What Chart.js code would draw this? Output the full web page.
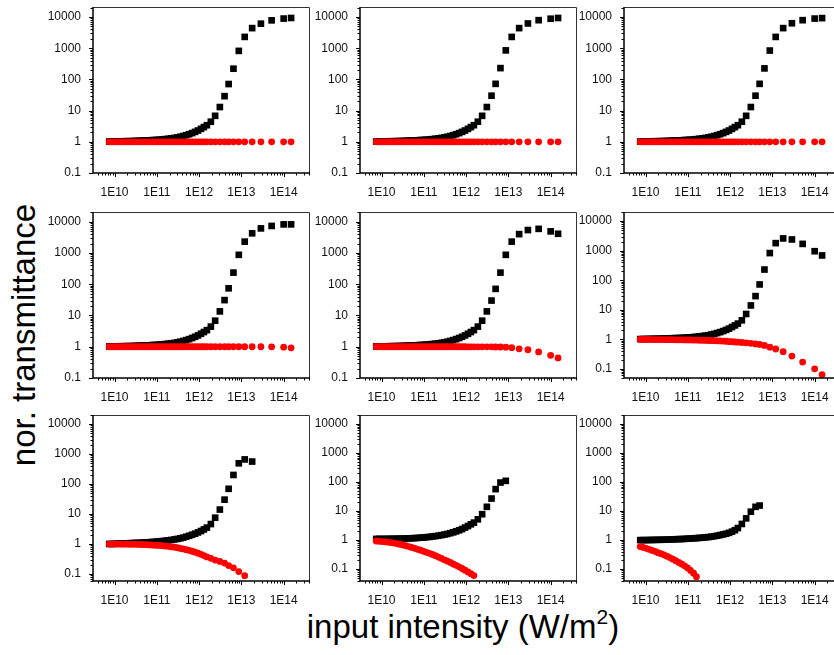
<!DOCTYPE html>
<html>
<head>
<meta charset="utf-8">
<script src="https://cdn.jsdelivr.net/npm/chart.js@4/dist/chart.umd.min.js"></script>
<style>
  html, body { margin: 0; padding: 0; background: #fff; }
  body { width: 834px; height: 655px; overflow: hidden; position: relative;
         font-family: "Liberation Sans", Arial, sans-serif; color: #000; }
  canvas { position: absolute; }
  #ytitle { position: absolute; left: -176px; top: 316px; width: 400px; height: 38px;
            line-height: 38px; font-size: 33px; text-align: center; transform: rotate(-90deg);
            white-space: nowrap; }
  #xtitle { position: absolute; left: 263px; top: 608px; width: 400px; line-height: 38px;
            font-size: 33px; text-align: center; white-space: nowrap; }
  #xtitle span { font-size: 21px; line-height: 21px; position: relative; top: -14px; }
</style>
</head>
<body>
<div id="ytitle">nor. transmittance</div>
<div id="xtitle">input intensity (W/m<span>2</span>)</div>
<script>
// input intensity (W/m2), shared by all panels
const X = [7.5e9, 8.8e9, 1.04e10, 1.22e10, 1.43e10, 1.68e10, 1.97e10, 2.32e10, 2.72e10, 3.2e10,
  3.76e10, 4.42e10, 5.19e10, 6.1e10, 7.16e10, 8.41e10, 9.89e10, 1.16e11, 1.37e11, 1.6e11,
  1.88e11, 2.21e11, 2.6e11, 3.06e11, 3.59e11, 4.22e11, 4.96e11, 5.82e11, 6.84e11, 8.04e11,
  9.44e11, 1.11e12, 1.3e12, 1.53e12, 1.9e12, 2.4e12, 3.1e12, 4.0e12, 5.0e12, 6.5e12,
  8.7e12, 1.2e13, 1.8e13, 2.9e13, 5.2e13, 1.0e14, 1.5e14];

// black squares
const K1 = [1.02, 1.02, 1.03, 1.03, 1.04, 1.04, 1.05, 1.05, 1.06, 1.07,
  1.08, 1.09, 1.10, 1.11, 1.12, 1.14, 1.15, 1.17, 1.19, 1.22,
  1.25, 1.29, 1.33, 1.38, 1.45, 1.53, 1.63, 1.75, 1.90, 2.08,
  2.30, 2.60, 2.95, 3.40, 4.4, 6.8, 13, 29, 71, 220,
  820, 2300, 4400, 6100, 7800, 8900, 9300];
const K2 = [1.02, 1.02, 1.03, 1.03, 1.04, 1.04, 1.05, 1.05, 1.06, 1.07,
  1.08, 1.09, 1.10, 1.11, 1.12, 1.14, 1.15, 1.17, 1.19, 1.22,
  1.25, 1.29, 1.33, 1.38, 1.45, 1.53, 1.63, 1.75, 1.90, 2.08,
  2.30, 2.60, 2.95, 3.40, 4.4, 6.8, 13, 30, 72, 230,
  850, 2300, 4400, 6200, 7900, 8800, 9300];
const K3 = [1.02, 1.02, 1.03, 1.03, 1.04, 1.04, 1.05, 1.05, 1.06, 1.07,
  1.08, 1.09, 1.10, 1.11, 1.12, 1.14, 1.15, 1.17, 1.19, 1.22,
  1.25, 1.29, 1.33, 1.38, 1.45, 1.53, 1.63, 1.75, 1.90, 2.08,
  2.30, 2.60, 2.95, 3.40, 4.4, 6.8, 13, 30, 72, 225,
  840, 2300, 4400, 6300, 7900, 8900, 9200];
const K4 = [1.02, 1.02, 1.03, 1.03, 1.04, 1.04, 1.05, 1.05, 1.06, 1.07,
  1.08, 1.09, 1.10, 1.11, 1.12, 1.14, 1.15, 1.17, 1.19, 1.22,
  1.25, 1.29, 1.33, 1.38, 1.45, 1.53, 1.63, 1.75, 1.90, 2.08,
  2.30, 2.60, 2.95, 3.40, 4.4, 6.8, 13.5, 31, 74, 235,
  870, 2300, 4250, 6100, 7300, 8200, 8200];
const K5 = [1.02, 1.02, 1.03, 1.03, 1.04, 1.04, 1.05, 1.05, 1.06, 1.07,
  1.08, 1.09, 1.10, 1.11, 1.12, 1.14, 1.15, 1.17, 1.19, 1.22,
  1.25, 1.29, 1.33, 1.38, 1.45, 1.53, 1.63, 1.75, 1.90, 2.08,
  2.30, 2.60, 2.95, 3.40, 4.4, 6.8, 13.5, 30, 71, 235,
  870, 2300, 4000, 5400, 5900, 4900, 4100];
const K6 = [1.02, 1.02, 1.03, 1.03, 1.04, 1.04, 1.05, 1.05, 1.06, 1.07,
  1.08, 1.09, 1.10, 1.11, 1.12, 1.14, 1.15, 1.17, 1.19, 1.22,
  1.25, 1.29, 1.33, 1.38, 1.45, 1.53, 1.63, 1.75, 1.90, 2.08,
  2.30, 2.60, 2.95, 3.40, 4.4, 7.2, 14, 29, 72, 230,
  830, 1800, 2600, 2400, 1700, 960, 690];
const K7 = [1.0, 1.0, 1.01, 1.02, 1.03, 1.04, 1.05, 1.06, 1.07, 1.08,
  1.09, 1.1, 1.12, 1.13, 1.15, 1.17, 1.19, 1.22, 1.25, 1.28,
  1.32, 1.36, 1.41, 1.47, 1.54, 1.63, 1.74, 1.87, 2.02, 2.2,
  2.42, 2.7, 3.05, 3.5, 4.6, 7.5, 14, 30, 69, 200,
  490, 660, 560];
const K8 = [1.10, 1.10, 1.10, 1.10, 1.10, 1.11, 1.11, 1.12, 1.12, 1.13,
  1.14, 1.15, 1.16, 1.17, 1.19, 1.21, 1.23, 1.26, 1.29, 1.33,
  1.37, 1.42, 1.48, 1.55, 1.63, 1.73, 1.85, 2.0, 2.18, 2.4,
  2.7, 3.05, 3.5, 4.0, 5.2, 7.8, 14, 27, 57, 96,
  110];
const K9 = [1.0, 1.0, 1.0, 1.01, 1.01, 1.02, 1.02, 1.03, 1.03, 1.04,
  1.05, 1.06, 1.07, 1.08, 1.09, 1.1, 1.12, 1.13, 1.15, 1.17,
  1.19, 1.21, 1.24, 1.27, 1.31, 1.36, 1.42, 1.49, 1.57, 1.66,
  1.78, 1.95, 2.2, 2.6, 3.6, 5.6, 9.5, 14, 15.5];

// red circles
const R1 = [1, 1, 1, 1, 1, 1, 1, 1, 1, 1,
  1, 1, 1, 1, 1, 1, 1, 1, 1, 1,
  1, 1, 1, 1, 1, 1, 1, 1, 1, 1,
  1, 1, 1, 1, 1, 1, 1, 1, 1, 1,
  1, 1, 1, 1, 1, 1, 1];
const R2 = [1, 1, 1, 1, 1, 1, 1, 1, 1, 1,
  1, 1, 1, 1, 1, 1, 1, 1, 1, 1,
  1, 1, 1, 1, 1, 1, 1, 1, 1, 1,
  1, 1, 1, 1, 1, 1, 1, 1, 1, 1,
  1, 1, 1, 1, 1, 1, 1];
const R3 = [1, 1, 1, 1, 1, 1, 1, 1, 1, 1,
  1, 1, 1, 1, 1, 1, 1, 1, 1, 1,
  1, 1, 1, 1, 1, 1, 1, 1, 1, 1,
  1, 1, 1, 1, 1, 1, 1, 1, 1, 1,
  1, 1, 1, 1, 1, 1, 1];
const R4 = [1, 1, 1, 1, 1, 1, 1, 1, 1, 1,
  1, 1, 1, 1, 1, 1, 1, 1, 1, 1,
  1, 1, 1, 1, 1, 1, 1, 1, 1, 1,
  1, 1, 1, 1, 1, 1, 1, 1, 1, 1,
  1, 1, 1, 1, 0.99, 0.97, 0.92];
const R5 = [1, 1, 1, 1, 1, 1, 1, 1, 1, 1,
  1, 1, 1, 1, 1, 1, 1, 1, 1, 1,
  1, 1, 1, 1, 1, 1, 1, 1, 1, 1,
  1, 0.99, 0.99, 0.99, 0.99, 0.99, 0.99, 0.99, 0.98, 0.98,
  0.97, 0.93, 0.86, 0.80, 0.68, 0.53, 0.44];
const R6 = [0.99, 0.99, 0.99, 0.99, 0.98, 0.98, 0.98, 0.98, 0.97, 0.97,
  0.97, 0.97, 0.96, 0.96, 0.96, 0.95, 0.95, 0.95, 0.94, 0.94,
  0.93, 0.93, 0.92, 0.91, 0.91, 0.90, 0.89, 0.88, 0.87, 0.86,
  0.84, 0.83, 0.81, 0.80, 0.78, 0.76, 0.73, 0.70, 0.67, 0.62,
  0.54, 0.47, 0.38, 0.27, 0.17, 0.10, 0.064];
const R7 = [0.99, 0.99, 0.99, 0.99, 0.98, 0.98, 0.98, 0.97, 0.97, 0.97,
  0.96, 0.95, 0.95, 0.94, 0.93, 0.91, 0.90, 0.89, 0.87, 0.85,
  0.83, 0.80, 0.78, 0.75, 0.71, 0.68, 0.64, 0.61, 0.57, 0.53,
  0.49, 0.45, 0.41, 0.37, 0.33, 0.29, 0.26, 0.23, 0.19, 0.16,
  0.12, 0.087];
const R8 = [0.93, 0.91, 0.89, 0.87, 0.85, 0.82, 0.79, 0.76, 0.72, 0.68,
  0.64, 0.60, 0.56, 0.52, 0.48, 0.45, 0.41, 0.38, 0.35, 0.32,
  0.29, 0.26, 0.235, 0.21, 0.19, 0.17, 0.15, 0.135, 0.12, 0.105,
  0.092, 0.08, 0.07, 0.06];
const R9 = [0.6, 0.56, 0.52, 0.48, 0.44, 0.41, 0.37, 0.34, 0.31, 0.28,
  0.25, 0.22, 0.195, 0.17, 0.15, 0.13, 0.11, 0.09, 0.072, 0.055];

const BLACK = [K1, K2, K3, K4, K5, K6, K7, K8, K9];
const RED = [R1, R2, R3, R4, R5, R6, R7, R8, R9];

// tick labels
const X_TICKS = [1e10, 1e11, 1e12, 1e13, 1e14];
const Y_TICKS = [0.1, 1, 10, 100, 1000, 10000];

// axis limits
const X_MIN = 3.1e9, X_MAX = 4.2e14;
const Y_MIN = [0.1, 0.1, 0.1, 0.1, 0.1, 0.049, 0.058, 0.039, 0.039];
const Y_MAX = [20900, 20900, 20900, 20400, 20400, 20400, 20000, 20400, 20400];

// layout of the plot areas
const COL_LEFT = [93, 360, 624];
const ROW_TOP = [7, 212, 415];
const PW = 217, PH = 166;
const AX_W = 50, AX_H = 26, PAD_T = 12, PAD_R = 16;

const frame = {
  id: 'frame',
  afterDraw(chart) {
    const { ctx, chartArea: a, scales: { x, y } } = chart;
    ctx.save();
    ctx.strokeStyle = '#333';
    ctx.lineWidth = 1;
    ctx.beginPath();
    ctx.moveTo(a.left, a.top + 0.5);
    ctx.lineTo(a.right - 0.5, a.top + 0.5);
    ctx.lineTo(a.right - 0.5, a.bottom);
    ctx.stroke();

    ctx.strokeStyle = '#000';
    ctx.lineWidth = 1.5;
    ctx.beginPath();
    ctx.moveTo(a.left, a.top);
    ctx.lineTo(a.left, a.bottom);
    ctx.lineTo(a.right, a.bottom);
    ctx.stroke();

    // log ticks, major and minor, pointing out
    ctx.lineWidth = 1;
    ctx.beginPath();
    for (let e = 9; e <= 14; e++) {
      for (let m = 1; m < 10; m++) {
        const v = m * Math.pow(10, e);
        if (v < x.min || v > x.max) continue;
        const px = Math.round(x.getPixelForValue(v)) + 0.5;
        ctx.moveTo(px, a.bottom);
        ctx.lineTo(px, a.bottom + (m === 1 ? 4 : 2.5));
      }
    }
    for (let e = -2; e <= 4; e++) {
      for (let m = 1; m < 10; m++) {
        const v = m * Math.pow(10, e);
        if (v < y.min || v > y.max) continue;
        const py = Math.round(y.getPixelForValue(v)) + 0.5;
        ctx.moveTo(a.left, py);
        ctx.lineTo(a.left - (m === 1 ? 4 : 2.5), py);
      }
    }
    ctx.stroke();
    ctx.restore();
  }
};

const tickFont = { family: 'Liberation Sans', size: 12 };

function makePanel(i) {
  const col = i % 3, row = Math.floor(i / 3);
  const cv = document.createElement('canvas');
  const w = AX_W + PW + PAD_R, h = PAD_T + PH + AX_H;
  cv.width = w;
  cv.height = h;
  cv.style.left = (COL_LEFT[col] - AX_W) + 'px';
  cv.style.top = (ROW_TOP[row] - PAD_T) + 'px';
  cv.style.width = w + 'px';
  cv.style.height = h + 'px';
  document.body.appendChild(cv);

  const k = BLACK[i], r = RED[i];
  new Chart(cv, {
    type: 'scatter',
    data: {
      datasets: [{
        data: r.map((v, j) => ({ x: X[j], y: v })),
        pointStyle: 'circle',
        pointRadius: 3.4,
        pointHoverRadius: 3.4,
        backgroundColor: '#ff0000',
        borderWidth: 0,
        order: 0
      }, {
        data: k.map((v, j) => ({ x: X[j], y: v })),
        pointStyle: 'rect',
        pointRadius: 4.7,
        pointHoverRadius: 4.7,
        backgroundColor: '#000',
        borderWidth: 0,
        order: 1
      }]
    },
    options: {
      responsive: false,
      animation: false,
      events: [],
      layout: { padding: { left: 0, top: PAD_T, right: PAD_R, bottom: 0 } },
      plugins: { legend: { display: false }, tooltip: { enabled: false } },
      scales: {
        x: {
          type: 'logarithmic',
          min: X_MIN,
          max: X_MAX,
          grid: { display: false },
          border: { display: false },
          afterBuildTicks: s => { s.ticks = X_TICKS.map(v => ({ value: v })); },
          afterFit: s => { s.height = AX_H; },
          ticks: {
            autoSkip: false, maxRotation: 0, padding: 4,
            font: tickFont, color: '#111',
            callback: v => '1E' + Math.round(Math.log10(v))
          }
        },
        y: {
          type: 'logarithmic',
          min: Y_MIN[i],
          max: Y_MAX[i],
          grid: { display: false },
          border: { display: false },
          afterBuildTicks: s => {
            s.ticks = Y_TICKS.filter(v => v >= Y_MIN[i] && v <= Y_MAX[i]).map(v => ({ value: v }));
          },
          afterFit: s => { s.width = AX_W; },
          ticks: {
            autoSkip: false, padding: 4,
            font: tickFont, color: '#111',
            callback: v => String(v)
          }
        }
      }
    },
    plugins: [frame]
  });
}

for (let i = 0; i < 9; i++) makePanel(i);
</script>
</body>
</html>
